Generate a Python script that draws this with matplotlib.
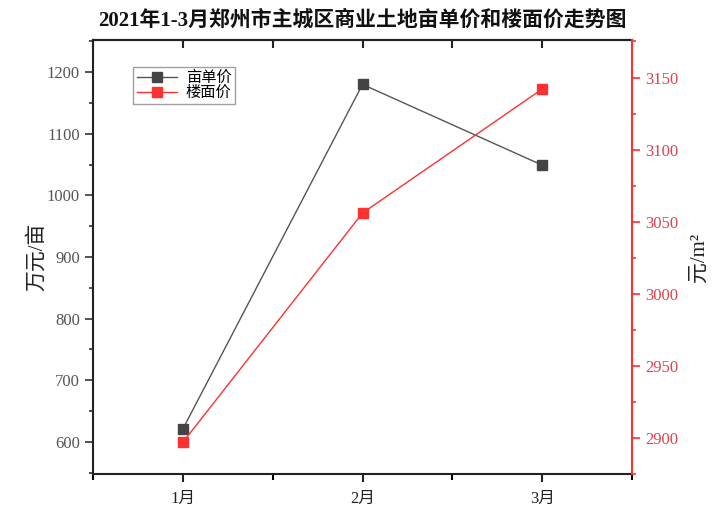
import matplotlib
matplotlib.use("Agg")
import matplotlib.pyplot as plt
from matplotlib.ticker import MultipleLocator, FixedLocator

plt.rcParams['font.family'] = ['Liberation Serif', 'Noto Sans CJK SC', 'DejaVu Sans']

months = ['1月', '2月', '3月']
mu_price = [621, 1180, 1049]        # 亩单价 万元/亩
floor_price = [2897, 3056, 3142]    # 楼面价 元/m²

x = [1, 2, 3]

fig = plt.figure(figsize=(7.21, 5.19), dpi=100)
ax = fig.add_axes([0.129, 0.0867, 0.7476, 0.8362])
ax2 = ax.twinx()

l1, = ax.plot(x, mu_price, color='#555555', lw=1.0, marker='s', ms=6.5,
              mfc='#444444', mec='#444444', label='亩单价')
l2, = ax2.plot(x, floor_price, color='#ff3030', lw=1.0, marker='s', ms=6.5,
               mfc='#ff3030', mec='#ff3030', label='楼面价')

ax.set_xlim(0.5, 3.5)
ax.set_ylim(548, 1252)
ax2.set_ylim(2875, 3176)

ax.set_xticks(x)
ax.set_xticklabels(months, fontsize=12)
ax.xaxis.set_minor_locator(FixedLocator([0.5, 1.5, 2.5, 3.5]))
ax.yaxis.set_major_locator(MultipleLocator(100))
ax.yaxis.set_minor_locator(MultipleLocator(50))
ax2.yaxis.set_major_locator(MultipleLocator(50))
ax2.yaxis.set_minor_locator(MultipleLocator(25))

for s in ['left', 'bottom', 'top']:
    ax.spines[s].set_linewidth(1.5)
    ax.spines[s].set_color('#222222')
ax.spines['right'].set_visible(False)
for s in ['left', 'bottom', 'top']:
    ax2.spines[s].set_visible(False)
ax2.spines['right'].set_color('#ff3030')
ax2.spines['right'].set_linewidth(1.5)

ax.tick_params(axis='x', which='major', direction='out', length=6, width=1.5,
               colors='#222222', labelcolor='#222222', pad=6)
ax.tick_params(axis='x', which='minor', direction='out', length=4, width=1.5)
ax.tick_params(axis='y', which='major', direction='out', length=6, width=1.2,
               colors='#333333', labelcolor='#555555', labelsize=12)
ax.tick_params(axis='y', which='minor', direction='out', length=3, width=1.2, colors='#333333')
ax2.tick_params(axis='y', which='major', direction='out', length=6, width=1.2,
                colors='#ff3030', labelcolor='#e04050', labelsize=12)
ax2.tick_params(axis='y', which='minor', direction='out', length=3, width=1.2, colors='#ff3030')

# top axis with inward ticks
top = ax.secondary_xaxis('top')
top.set_xticks(x)
top.xaxis.set_minor_locator(FixedLocator([0.5, 1.5, 2.5, 3.5]))
top.tick_params(axis='x', which='both', direction='in', length=6, width=1.5,
                colors='#222222', labeltop=False)
top.spines['top'].set_linewidth(1.5)
top.spines['top'].set_color('#222222')

ax.set_ylabel('万元/亩', fontsize=15, color='#222222', labelpad=0)
ax2.set_ylabel('元/m²', fontsize=15, color='#222222', labelpad=8)

ax.set_title('2021年1-3月郑州市主城区商业土地亩单价和楼面价走势图', fontsize=15,
             color='#111111', pad=10, fontweight='bold')

leg = ax.legend([l1, l2], ['亩单价', '楼面价'], loc='upper left',
                bbox_to_anchor=(0.06, 0.955), fontsize=11, frameon=True,
                fancybox=False, edgecolor='#888888', handlelength=2.6,
                borderpad=0.25, labelspacing=0.05, handletextpad=0.6)
leg.get_frame().set_linewidth(1.0)

fig.savefig('out.png', dpi=100)
